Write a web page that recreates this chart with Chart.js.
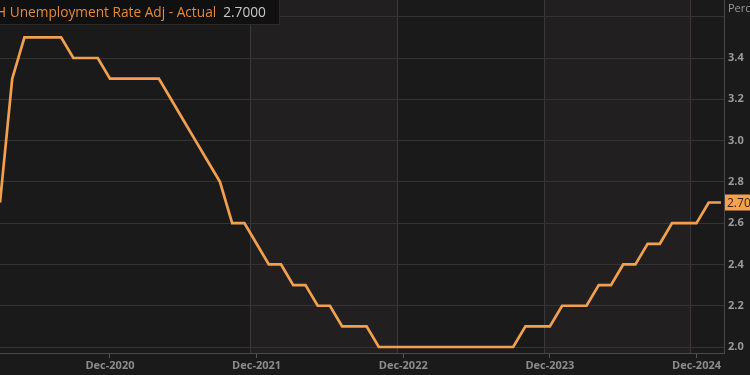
<!DOCTYPE html>
<html>
<head>
<meta charset="utf-8">
<script src="https://cdn.jsdelivr.net/npm/chart.js@4.4.1/dist/chart.umd.min.js"></script>
<style>
  html, body { margin: 0; padding: 0; background: #1b1a1b; }
  #wrap { width: 750px; height: 375px; position: relative; }
</style>
</head>
<body>
<div id="wrap"><canvas id="rateChart" width="750" height="375"></canvas></div>
<script>
// monthly readings, Mar-2020 .. Jan-2025
const firstMonth = { year: 2020, month: 2 }; // March (0-based)
const rateValues = [
  2.7, 3.3, 3.5, 3.5, 3.5, 3.5, 3.4, 3.4, 3.4, 3.3,
  3.3, 3.3, 3.3, 3.3, 3.2, 3.1, 3.0, 2.9, 2.8, 2.6,
  2.6, 2.5, 2.4, 2.4, 2.3, 2.3, 2.2, 2.2, 2.1, 2.1,
  2.1, 2.0, 2.0, 2.0, 2.0, 2.0, 2.0, 2.0, 2.0, 2.0,
  2.0, 2.0, 2.0, 2.1, 2.1, 2.1, 2.2, 2.2, 2.2, 2.3,
  2.3, 2.4, 2.4, 2.5, 2.5, 2.6, 2.6, 2.6, 2.7, 2.7
];
const xTickLabels = ['Dec-2020', 'Dec-2021', 'Dec-2022', 'Dec-2023', 'Dec-2024'];
const yTickValues = [2.0, 2.2, 2.4, 2.6, 2.8, 3.0, 3.2, 3.4, 3.6];
const seriesName = 'H Unemployment Rate Adj - Actual';
const lastValue = '2.7000';

const monNames = ['Jan','Feb','Mar','Apr','May','Jun','Jul','Aug','Sep','Oct','Nov','Dec'];
const monthLabels = rateValues.map((_, i) => {
  const m = firstMonth.month + i;
  return monNames[m % 12] + '-' + (firstMonth.year + Math.floor(m / 12));
});
const points = rateValues.map((v, i) => ({ x: i, y: v }));
const tickIdx = xTickLabels.map(l => monthLabels.indexOf(l));

const bandsPlugin = {
  id: 'bands',
  beforeDraw(chart) {
    const { ctx, chartArea: a, scales: { x } } = chart;
    ctx.save();
    ctx.fillStyle = '#1b1a1b';
    ctx.fillRect(0, 0, chart.width, chart.height);
    // year bands start at the second December
    const edges = tickIdx.slice(1).map(i => x.getPixelForValue(i - 0.5));
    ctx.fillStyle = '#221f21';
    for (let k = 0; k < edges.length; k += 2) {
      const x0 = edges[k];
      const x1 = k + 1 < edges.length ? edges[k + 1] : a.right;
      ctx.fillRect(x0, a.top, x1 - x0, a.bottom - a.top);
    }
    ctx.strokeStyle = '#3a383a';
    ctx.lineWidth = 1;
    edges.forEach(e => {
      ctx.beginPath();
      ctx.moveTo(Math.round(e) + 0.5, a.top);
      ctx.lineTo(Math.round(e) + 0.5, a.bottom);
      ctx.stroke();
    });
    ctx.restore();
  }
};

const overlayPlugin = {
  id: 'overlay',
  afterDraw(chart) {
    const { ctx, chartArea: a, scales: { y } } = chart;
    ctx.save();
    // header box
    ctx.fillStyle = '#101010';
    ctx.fillRect(0, 0, 280, 25);
    ctx.strokeStyle = '#2c2a2c';
    ctx.strokeRect(-1, -1, 280.5, 25.5);
    ctx.font = '13.7px "Open Sans", sans-serif';
    ctx.textBaseline = 'middle';
    ctx.fillStyle = '#e58a3c';
    ctx.fillText(seriesName, -4, 13);
    const w = ctx.measureText(seriesName).width;
    ctx.fillStyle = '#c8c8c8';
    ctx.fillText(lastValue, -4 + w + 7, 13);

    // axis unit
    ctx.font = '11px "Open Sans", sans-serif';
    ctx.fillStyle = '#9a9a9a';
    ctx.fillText('Percent', a.right + 4, 9);

    // last value tag
    const yy = y.getPixelForValue(rateValues[rateValues.length - 1]);
    ctx.fillStyle = '#f4a24f';
    ctx.fillRect(a.right + 1, yy - 8, 40, 16);
    ctx.fillStyle = '#3b2612';
    ctx.font = '12px "Open Sans", sans-serif';
    ctx.fillText(lastValue, a.right + 3, yy + 1);
    ctx.restore();
  }
};

const config = {
  type: 'line',
  data: {
    datasets: [{
      label: seriesName,
      data: points,
      borderColor: '#f1a04f',
      borderWidth: 2.7,
      pointRadius: 0,
      tension: 0
    }]
  },
  options: {
    responsive: false,
    animation: false,
    layout: { padding: 0 },
    plugins: { legend: { display: false }, tooltip: { enabled: false } },
    scales: {
      x: {
        type: 'linear',
        min: 0,
        max: 59.25,
        afterBuildTicks: s => { s.ticks = tickIdx.map(v => ({ value: v })); },
        afterFit: s => { s.height = 22; s.paddingLeft = 0; s.paddingRight = 0; },
        grid: { drawOnChartArea: false, drawTicks: true, tickLength: 5, color: '#555' },
        border: { color: '#4a484a' },
        ticks: {
          color: '#8c8c8c',
          font: { family: 'Open Sans', size: 11, weight: 'bold' },
          padding: 1,
          maxRotation: 0,
          autoSkip: false,
          callback: v => monthLabels[v] || ''
        }
      },
      y: {
        position: 'right',
        min: 1.971,
        max: 3.681,
        afterBuildTicks: s => { s.ticks = yTickValues.map(v => ({ value: v })); },
        afterFit: s => { s.width = 26; s.paddingTop = 0; s.paddingBottom = 0; },
        grid: { color: '#353335', drawTicks: false },
        border: { color: '#4a484a' },
        ticks: {
          color: '#9a9a9a',
          font: { family: 'Open Sans', size: 11, weight: 'bold' },
          padding: 4,
          callback: v => (v > 3.5 ? '' : v.toFixed(1))
        }
      }
    }
  },
  plugins: [bandsPlugin, overlayPlugin]
};

document.addEventListener('DOMContentLoaded', () => {
  const canvas = document.getElementById('rateChart');
  new Chart(canvas.getContext('2d'), config);
});
</script>
</body>
</html>
